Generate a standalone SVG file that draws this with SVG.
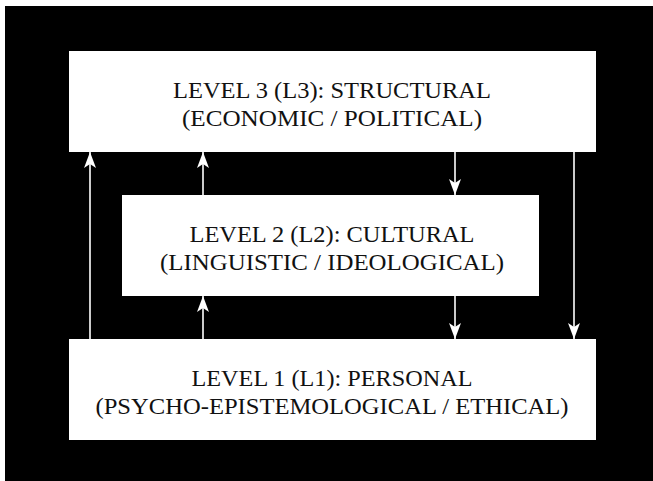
<svg xmlns="http://www.w3.org/2000/svg" width="653" height="481" viewBox="0 0 653 481">
<defs>
<style>
.box{fill:#fff}
.t{font-family:"Liberation Serif","Times New Roman",serif;font-size:24px;fill:#111;text-anchor:middle}
.c{stroke:#fff;stroke-width:1.6;fill:none}
.h{fill:#fff}
</style>
<marker id="ah" viewBox="0 0 16 12" refX="16" refY="6" markerWidth="16" markerHeight="12" markerUnits="userSpaceOnUse" orient="auto">
<path class="h" d="M0,0 L16,6 L0,12 L4,6 Z"/>
</marker>
</defs>
<rect x="0" y="0" width="653" height="481" fill="#fff"/>
<rect x="5" y="6" width="648" height="475" fill="#000"/>
<g id="connectors">
<line class="c" x1="90" y1="339" x2="90" y2="152" marker-end="url(#ah)"/>
<line class="c" x1="203" y1="195" x2="203" y2="152" marker-end="url(#ah)"/>
<line class="c" x1="203" y1="339" x2="203" y2="296" marker-end="url(#ah)"/>
<line class="c" x1="455" y1="152" x2="455" y2="195" marker-end="url(#ah)"/>
<line class="c" x1="455" y1="296" x2="455" y2="339" marker-end="url(#ah)"/>
<line class="c" x1="574" y1="152" x2="574" y2="339" marker-end="url(#ah)"/>
</g>
<g id="L3">
<rect class="box" x="69" y="51" width="527" height="101"/>
<text class="t" x="332" y="98" textLength="318" lengthAdjust="spacingAndGlyphs">LEVEL 3 (L3): STRUCTURAL</text>
<text class="t" x="332" y="126" textLength="300" lengthAdjust="spacingAndGlyphs">(ECONOMIC / POLITICAL)</text>
</g>
<g id="L2">
<rect class="box" x="122" y="195" width="417" height="101"/>
<text class="t" x="332" y="242" textLength="285" lengthAdjust="spacingAndGlyphs">LEVEL 2 (L2): CULTURAL</text>
<text class="t" x="332" y="270" textLength="344" lengthAdjust="spacingAndGlyphs">(LINGUISTIC / IDEOLOGICAL)</text>
</g>
<g id="L1">
<rect class="box" x="69" y="339" width="527" height="101"/>
<text class="t" x="332" y="386" textLength="281" lengthAdjust="spacingAndGlyphs">LEVEL 1 (L1): PERSONAL</text>
<text class="t" x="332" y="414" textLength="473" lengthAdjust="spacingAndGlyphs">(PSYCHO-EPISTEMOLOGICAL / ETHICAL)</text>
</g>
</svg>
